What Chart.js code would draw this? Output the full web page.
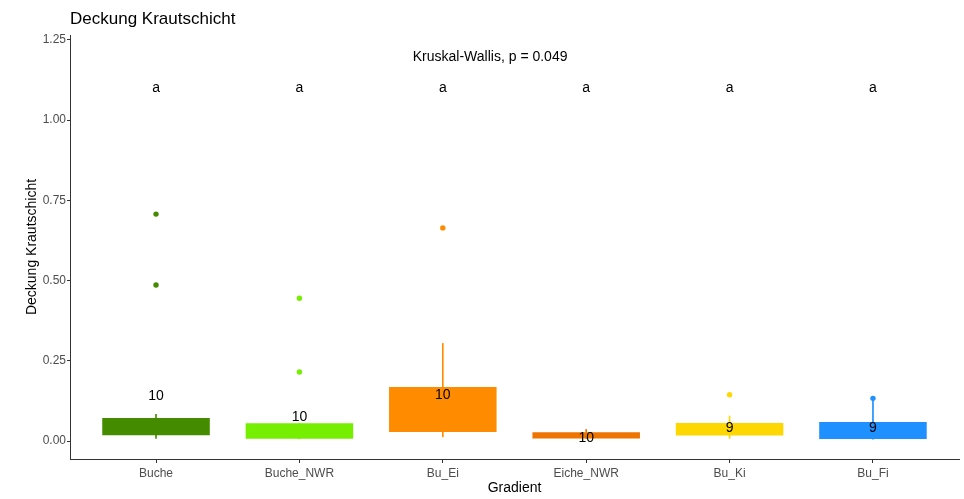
<!DOCTYPE html>
<html>
<head>
<meta charset="utf-8">
<script src="https://cdn.jsdelivr.net/npm/chart.js@4/dist/chart.umd.min.js"></script>
<style>
  html, body { margin: 0; padding: 0; background: #fff; }
  #wrap { width: 964px; height: 499px; }
</style>
</head>
<body>
<div id="wrap"><canvas id="myChart" width="964" height="499"></canvas></div>
<script>
var groups = ["Buche", "Buche_NWR", "Bu_Ei", "Eiche_NWR", "Bu_Ki", "Bu_Fi"];
var boxColors = ["#458B00", "#76EE00", "#FF8C00", "#EE7600", "#FFD700", "#1E90FF"];

// box plot stats
var q1 = [0.018, 0.007, 0.028, 0.008, 0.017, 0.006];
var q3 = [0.072, 0.055, 0.168, 0.027, 0.056, 0.059];
var whiskLow = [0.008, 0.007, 0.013, 0.008, 0.008, 0.006];
var whiskHigh = [0.083, 0.055, 0.304, 0.036, 0.078, 0.133];

// outlier points
var outGroup = ["Buche", "Buche", "Buche_NWR", "Buche_NWR", "Bu_Ei", "Bu_Ki", "Bu_Fi"];
var outValue = [0.707, 0.486, 0.445, 0.215, 0.664, 0.144, 0.133];

// n labels (placed at the group mean)
var nCount = [10, 10, 10, 10, 9, 9];
var nPos = [0.14, 0.074, 0.142, 0.009, 0.040, 0.041];

var letters = ["a", "a", "a", "a", "a", "a"];
var letterPos = 1.10;
var testText = "Kruskal-Wallis, p = 0.049";
var testPos = 1.195;
var testGroupPos = 2.33;

var yTicks = [0, 0.25, 0.5, 0.75, 1, 1.25];

var boxData = [];
var whiskData = [];
for (var i = 0; i < groups.length; i++) {
  boxData.push({x: i, y: [q1[i], q3[i]]});
  whiskData.push({x: i, y: [whiskLow[i], whiskHigh[i]]});
}
var outData = [];
var outColors = [];
for (var j = 0; j < outGroup.length; j++) {
  var gi = groups.indexOf(outGroup[j]);
  outData.push({x: gi, y: outValue[j]});
  outColors.push(boxColors[gi]);
}

var fontFam = "'Liberation Sans', Arial, sans-serif";

var textPlugin = {
  id: "textPlugin",
  afterDatasetsDraw: function(chart) {
    var ctx = chart.ctx;
    var xs = chart.scales.x;
    var ys = chart.scales.y;
    ctx.save();
    ctx.fillStyle = "#000";
    ctx.textAlign = "center";
    ctx.textBaseline = "middle";
    ctx.font = "14px " + fontFam;
    for (var i = 0; i < groups.length; i++) {
      var px = xs.getPixelForValue(i);
      ctx.fillText(letters[i], px, ys.getPixelForValue(letterPos));
      ctx.fillText(String(nCount[i]), px, ys.getPixelForValue(nPos[i]));
    }
    ctx.font = "14px " + fontFam;
    ctx.fillText(testText, xs.getPixelForValue(testGroupPos), ys.getPixelForValue(testPos));
    // main title
    ctx.textAlign = "left";
    ctx.font = "17px " + fontFam;
    ctx.fillText("Deckung Krautschicht", chart.chartArea.left, 19);
    ctx.restore();
  }
};

new Chart("myChart", {
  type: "bar",
  data: {
    datasets: [
      {
        type: "bar",
        data: whiskData,
        backgroundColor: boxColors,
        barThickness: 1,
        grouped: false,
        order: 3
      },
      {
        type: "bar",
        data: boxData,
        backgroundColor: boxColors,
        barPercentage: 0.75,
        categoryPercentage: 1,
        grouped: false,
        order: 2
      },
      {
        type: "line",
        data: outData,
        showLine: false,
        pointRadius: 2.7,
        pointBorderWidth: 0,
        pointBackgroundColor: outColors,
        pointBorderColor: outColors,
        order: 1
      }
    ]
  },
  options: {
    responsive: false,
    animation: false,
    layout: {padding: {left: 0, right: 5, top: 35, bottom: 0}},
    plugins: {
      legend: {display: false},
      tooltip: {enabled: false},
      title: {display: false}
    },
    scales: {
      x: {
        type: "linear",
        min: -0.6,
        max: 5.6,
        offset: false,
        afterBuildTicks: function(scale) {
          scale.ticks = groups.map(function(g, k) { return {value: k}; });
        },
        grid: {display: true, drawOnChartArea: false, tickLength: 4, color: "#333", offset: false},
        border: {display: true, color: "#333", width: 1},
        ticks: {
          color: "#4D4D4D",
          font: {size: 12, family: fontFam},
          padding: 3,
          maxRotation: 0,
          autoSkip: false,
          callback: function(v) { return groups[v]; }
        },
        title: {display: true, text: "Gradient", color: "#000", font: {size: 14, family: fontFam}, padding: {top: 0, bottom: 2}},
        afterFit: function(scale) { scale.height = 40; }
      },
      y: {
        min: -0.056,
        max: 1.265,
        afterBuildTicks: function(scale) {
          scale.ticks = yTicks.map(function(v) { return {value: v}; });
        },
        grid: {display: true, drawOnChartArea: false, tickLength: 3, color: "#333"},
        border: {display: true, color: "#333", width: 1},
        ticks: {
          color: "#4D4D4D",
          font: {size: 12, family: fontFam},
          padding: 1,
          callback: function(v) { return Number(v).toFixed(2); }
        },
        title: {display: true, text: "Deckung Krautschicht", color: "#000", font: {size: 14, family: fontFam}, padding: {top: 24, bottom: 0}},
        afterFit: function(scale) { scale.width = 70; }
      }
    }
  },
  plugins: [textPlugin]
});
</script>
</body>
</html>
